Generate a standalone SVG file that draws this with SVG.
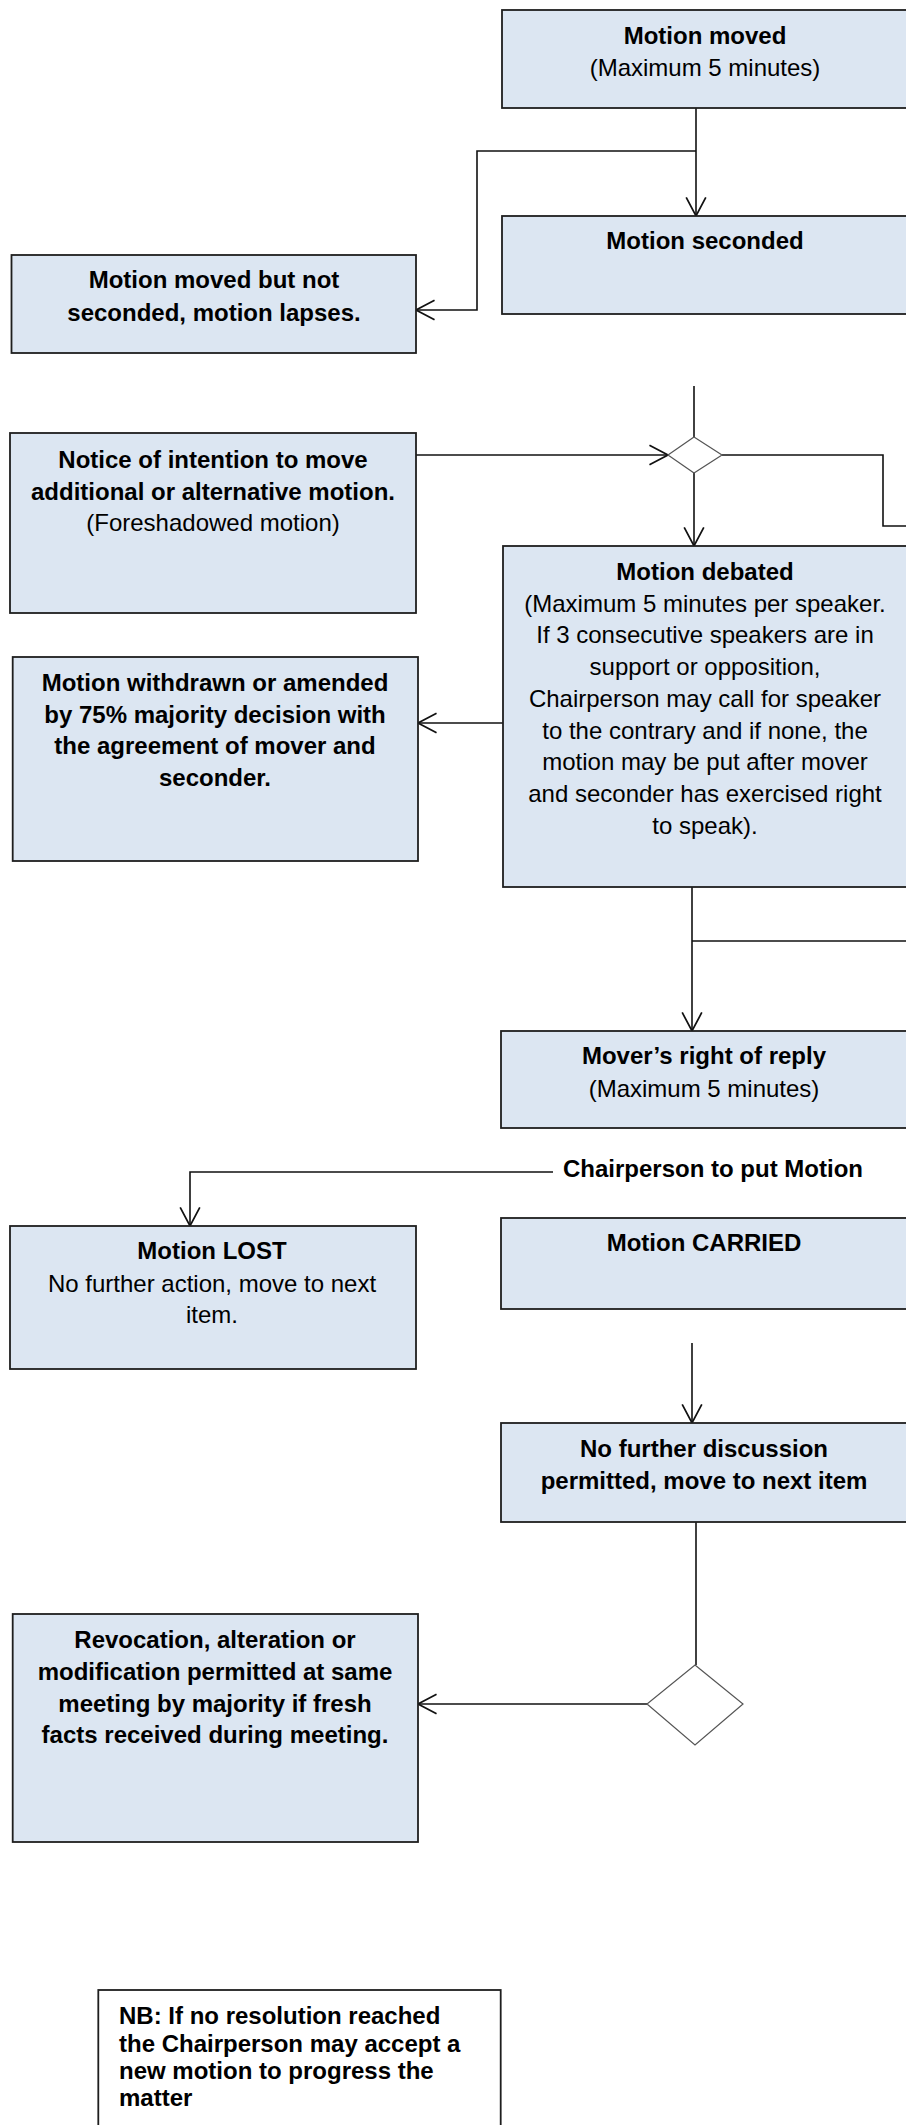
<svg xmlns="http://www.w3.org/2000/svg" width="906" height="2125" viewBox="0 0 906 2125">
<style>
.box{fill:#DCE6F2;stroke:#1e1e1e;stroke-width:1.8}
.nb{fill:#ffffff;stroke:#1e1e1e;stroke-width:1.8}
.dia{fill:#ffffff;stroke:#555555;stroke-width:1.2}
.ln{fill:none;stroke:#111111;stroke-width:1.6}
text{font-family:"Liberation Sans",Arial,sans-serif;font-size:24px;fill:#000000}
.b{font-weight:bold}
.c{text-anchor:middle}
</style>
<defs>
<marker id="arr" markerUnits="userSpaceOnUse" markerWidth="24" markerHeight="24" viewBox="-19 -11 22 22" refX="0" refY="0" orient="auto">
<path d="M-17,-9 L0,0 L-17,9" fill="none" stroke="#111111" stroke-width="1.6"/>
</marker>
</defs>
<rect width="906" height="2125" fill="#ffffff"/>
<g id="connectors">
<path class="ln" d="M696,108 V216" marker-end="url(#arr)"/>
<path class="ln" d="M696,151 H477 V310 H416" marker-end="url(#arr)"/>
<path class="ln" d="M694,386 V437"/>
<path class="ln" d="M416,455 H668" marker-end="url(#arr)"/>
<path class="ln" d="M722,455 H883 V526 H912"/>
<path class="ln" d="M694,473 V546" marker-end="url(#arr)"/>
<path class="ln" d="M503,723 H418" marker-end="url(#arr)"/>
<path class="ln" d="M692,887 V1031" marker-end="url(#arr)"/>
<path class="ln" d="M692,941 H912"/>
<path class="ln" d="M553,1172 H190 V1226" marker-end="url(#arr)"/>
<path class="ln" d="M692,1343 V1423" marker-end="url(#arr)"/>
<path class="ln" d="M696,1522 V1665"/>
<path class="ln" d="M647,1704 H418" marker-end="url(#arr)"/>
</g>
<g id="motion-moved">
<rect class="box" x="502" y="10" width="412" height="98"/>
<text class="b c" x="705" y="44">Motion moved</text>
<text class="c" x="705" y="76">(Maximum 5 minutes)</text>
</g>
<g id="motion-seconded">
<rect class="box" x="502" y="216" width="412" height="98"/>
<text class="b c" x="705" y="249">Motion seconded</text>
</g>
<g id="motion-lapses">
<rect class="box" x="11.5" y="255" width="404.5" height="98"/>
<text class="b c" x="214" y="288">Motion moved but not</text>
<text class="b c" x="214" y="321">seconded, motion lapses.</text>
</g>
<g id="decision-1">
<polygon class="dia" points="694,437 722,455 694,473 668,455"/>
</g>
<g id="notice">
<rect class="box" x="10" y="433" width="406" height="180"/>
<text class="b c" x="213" y="468">Notice of intention to move</text>
<text class="b c" x="213" y="500">additional or alternative motion.</text>
<text class="c" x="213" y="531">(Foreshadowed motion)</text>
</g>
<g id="motion-debated">
<rect class="box" x="503" y="546" width="411" height="341"/>
<text class="b c" x="705" y="580">Motion debated</text>
<text class="c" x="705" y="611.7">(Maximum 5 minutes per speaker.</text>
<text class="c" x="705" y="643.4">If 3 consecutive speakers are in</text>
<text class="c" x="705" y="675.1">support or opposition,</text>
<text class="c" x="705" y="706.8">Chairperson may call for speaker</text>
<text class="c" x="705" y="738.5">to the contrary and if none, the</text>
<text class="c" x="705" y="770.2">motion may be put after mover</text>
<text class="c" x="705" y="801.9">and seconder has exercised right</text>
<text class="c" x="705" y="833.6">to speak).</text>
</g>
<g id="motion-withdrawn">
<rect class="box" x="12.7" y="657" width="405.3" height="204"/>
<text class="b c" x="215" y="691">Motion withdrawn or amended</text>
<text class="b c" x="215" y="722.7">by 75% majority decision with</text>
<text class="b c" x="215" y="754.4">the agreement of mover and</text>
<text class="b c" x="215" y="786.1">seconder.</text>
</g>
<g id="movers-reply">
<rect class="box" x="501" y="1031" width="413" height="97"/>
<text class="b c" x="704" y="1064">Mover’s right of reply</text>
<text class="c" x="704" y="1097">(Maximum 5 minutes)</text>
</g>
<g id="put-motion">
<text class="b" x="563" y="1177">Chairperson to put Motion</text>
</g>
<g id="motion-lost">
<rect class="box" x="10" y="1226" width="406" height="143"/>
<text class="b c" x="212" y="1259">Motion LOST</text>
<text class="c" x="212" y="1292">No further action, move to next</text>
<text class="c" x="212" y="1323">item.</text>
</g>
<g id="motion-carried">
<rect class="box" x="501" y="1218" width="413" height="91"/>
<text class="b c" x="704" y="1251">Motion CARRIED</text>
</g>
<g id="no-further">
<rect class="box" x="501" y="1423" width="413" height="99"/>
<text class="b c" x="704" y="1457">No further discussion</text>
<text class="b c" x="704" y="1489">permitted, move to next item</text>
</g>
<g id="decision-2">
<polygon class="dia" points="695,1665 743,1704 695,1745 647,1704"/>
</g>
<g id="revocation">
<rect class="box" x="12.7" y="1614" width="405.3" height="228"/>
<text class="b c" x="215" y="1648">Revocation, alteration or</text>
<text class="b c" x="215" y="1680">modification permitted at same</text>
<text class="b c" x="215" y="1712">meeting by majority if fresh</text>
<text class="b c" x="215" y="1743">facts received during meeting.</text>
</g>
<g id="nb-note">
<rect class="nb" x="98.3" y="1990" width="402.4" height="145"/>
<text class="b" x="119" y="2024">NB: If no resolution reached</text>
<text class="b" x="119" y="2051.5">the Chairperson may accept a</text>
<text class="b" x="119" y="2079">new motion to progress the</text>
<text class="b" x="119" y="2106">matter</text>
</g>
</svg>
